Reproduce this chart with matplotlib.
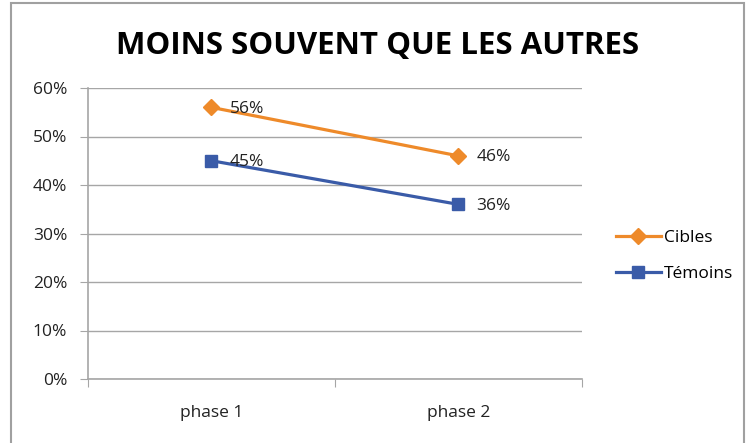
import matplotlib.pyplot as plt
from matplotlib.patches import Rectangle
from matplotlib.ticker import FuncFormatter

plt.rcParams['font.family'] = ['Open Sans', 'DejaVu Sans']

categories = ["phase 1", "phase 2"]
cibles = [0.56, 0.46]
temoins = [0.45, 0.36]
yticks = [0, 0.1, 0.2, 0.3, 0.4, 0.5, 0.6]

orange = "#EE8A2A"
blue = "#3A5BA8"
grid = "#A6A6A6"

fig = plt.figure(figsize=(7.5, 4.43), dpi=100)
W, H = 750, 443
ax = fig.add_axes([88 / W, 1 - 379 / H, (582 - 88) / W, (379 - 88) / H])

# outer chart border
fig.patches.append(Rectangle((11 / W, -0.01), (744 - 11) / W, (1 - 3 / H) + 0.01,
                             transform=fig.transFigure, fill=False,
                             edgecolor="#A0A0A0", linewidth=1.5))

x = [0.5, 1.5]
ax.plot(x, cibles, color=orange, linewidth=2.3, marker="D", markersize=8, label="Cibles")
ax.plot(x, temoins, color=blue, linewidth=2.3, marker="s", markersize=9, label="Témoins")

for xi, v in zip(x, cibles):
    ax.annotate(f"{round(v * 100)}%", (xi, v), xytext=(13, -1), textcoords="offset points",
                va="center", ha="left", fontsize=12.5, color="#222222")
for xi, v in zip(x, temoins):
    ax.annotate(f"{round(v * 100)}%", (xi, v), xytext=(13, -1), textcoords="offset points",
                va="center", ha="left", fontsize=12.5, color="#222222")

ax.set_xlim(0, 2)
ax.set_ylim(0, 0.6)
ax.set_yticks(yticks)
ax.yaxis.set_major_formatter(FuncFormatter(lambda v, p: f"{round(v * 100)}%"))
ax.set_xticks([0, 1, 2])
ax.set_xticklabels([])
ax.set_xticks(x, minor=True)
ax.set_xticklabels(categories, minor=True)
ax.tick_params(axis="x", which="minor", length=0, pad=19, labelsize=12.5, colors="#222222")
ax.tick_params(axis="x", which="major", length=6, color=grid, direction="out")
ax.tick_params(axis="y", length=6, color=grid, labelsize=12.5, colors="#222222", pad=9)
ax.tick_params(axis="y", color=grid)

ax.grid(axis="y", color=grid, linewidth=1)
ax.set_axisbelow(True)
for s in ["top", "right"]:
    ax.spines[s].set_visible(False)
for s in ["left", "bottom"]:
    ax.spines[s].set_color(grid)
    ax.spines[s].set_linewidth(1.2)

fig.text(378 / W, 1 - 46 / H, "MOINS SOUVENT QUE LES AUTRES", ha="center", va="center",
         fontsize=22.5, fontweight="bold", color="black")

fig.legend(loc="center left", bbox_to_anchor=(600 / W, 1 - 256 / H), frameon=False,
           fontsize=12.5, handlelength=2.6, labelspacing=1.15, handletextpad=0.2)

fig.savefig("out.png", dpi=100)
